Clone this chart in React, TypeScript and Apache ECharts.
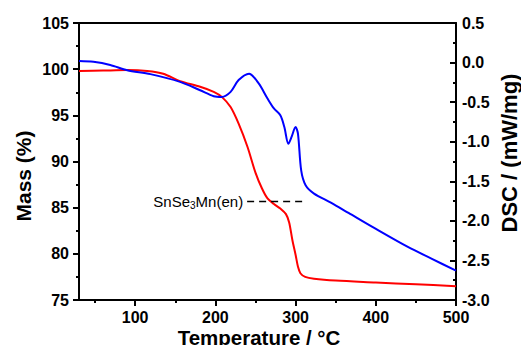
import React, { useEffect, useRef } from "react";
import * as echarts from "echarts";

const FONT = "Arial, 'Liberation Sans', Helvetica, sans-serif";

const massTemps = [30, 60, 90, 115, 135, 156, 181, 198, 208, 219, 229, 240, 250, 258, 265, 273, 281, 288, 292, 296, 300, 303, 306, 312, 323, 350, 400, 450, 500];
const massValues = [99.8, 99.85, 99.9, 99.8, 99.5, 98.7, 98.1, 97.55, 97.0, 95.9, 94.1, 91.6, 88.8, 87.1, 86.0, 85.4, 84.9, 84.3, 83.4, 81.5, 79.9, 78.6, 77.9, 77.5, 77.3, 77.1, 76.9, 76.7, 76.5];

const dscTemps = [30, 48, 69, 90, 119, 156, 181, 198, 208, 219, 229, 242, 254, 265, 273, 281, 286, 291, 295, 300, 303, 307, 312.5, 323, 344, 366, 398, 440, 470, 500];
const dscValues = [0.02, 0.01, -0.03, -0.096, -0.146, -0.244, -0.35, -0.425, -0.434, -0.37, -0.22, -0.14, -0.264, -0.454, -0.58, -0.666, -0.814, -1.025, -0.94, -0.814, -0.9, -1.363, -1.55, -1.655, -1.77, -1.9, -2.09, -2.33, -2.48, -2.63];

const xMajorTicks = [100, 200, 300, 400, 500];
const xMinorTicks = [50, 150, 250, 350, 450];

const annotationTemps = [239.6, 310.4];
const annotationMass = 85.7;

export default function App() {
  const ref = useRef<HTMLDivElement>(null);

  useEffect(() => {
    if (!ref.current) return;
    const chart = echarts.init(ref.current, null, { renderer: "svg" });
    const massData = massTemps.map((t, i) => [t, massValues[i]]);
    const dscData = dscTemps.map((t, i) => [t, dscValues[i]]);
    const labelStyle = { fontSize: 16, fontWeight: "bold" as const, color: "#000", fontFamily: FONT };
    const lineStyle = { color: "#000", width: 2 };

    chart.setOption({
      animation: false,
      backgroundColor: "#fff",
      grid: { left: 79, right: 65, top: 23, bottom: 45, containLabel: false, outerBoundsMode: "none" },
      xAxis: [
        {
          type: "value",
          min: 30,
          max: 500,
          position: "bottom",
          axisLine: { show: true, onZero: false, lineStyle },
          axisTick: { show: true, inside: false, length: 6, customValues: xMajorTicks, lineStyle: { color: "#000", width: 2 } },
          axisLabel: { ...labelStyle, margin: 9, customValues: xMajorTicks },
          splitLine: { show: false },
        },
        {
          type: "value",
          min: 30,
          max: 500,
          position: "bottom",
          axisLine: { show: false, onZero: false },
          axisTick: { show: true, inside: false, length: 3, customValues: xMinorTicks, lineStyle: { color: "#000", width: 2 } },
          axisLabel: { show: false },
          splitLine: { show: false },
        },
        {
          type: "value",
          min: 30,
          max: 500,
          position: "top",
          axisLine: { show: true, onZero: false, lineStyle },
          axisTick: { show: false },
          axisLabel: { show: false },
          splitLine: { show: false },
        },
      ],
      yAxis: [
        {
          type: "value",
          min: 75,
          max: 105,
          interval: 5,
          position: "left",
          axisLine: { show: true, onZero: false, lineStyle },
          axisTick: { show: true, inside: false, length: 6, lineStyle: { color: "#000", width: 2 } },
          minorTick: { show: true, splitNumber: 2, length: 3, lineStyle: { color: "#000", width: 2 } },
          axisLabel: { ...labelStyle, margin: 10 },
          splitLine: { show: false },
        },
        {
          type: "value",
          min: -3,
          max: 0.5,
          interval: 0.5,
          position: "right",
          axisLine: { show: true, onZero: false, lineStyle },
          axisTick: { show: true, inside: true, length: 6, lineStyle: { color: "#000", width: 2 } },
          minorTick: { show: true, splitNumber: 2, length: 3, lineStyle: { color: "#000", width: 2 } },
          axisLabel: { ...labelStyle, margin: 6, formatter: (v: number) => v.toFixed(1) },
          splitLine: { show: false },
        },
      ],
      series: [
        {
          type: "line",
          xAxisIndex: 0,
          yAxisIndex: 0,
          data: massData,
          showSymbol: false,
          smooth: 0.3,
          lineStyle: { color: "#ff0000", width: 2 },
          z: 3,
          markLine: {
            silent: true,
            symbol: ["none", "none"],
            lineStyle: { color: "#000", width: 1.3, type: [7, 5] },
            label: {
              show: true,
              position: "start",
              distance: 4,
              formatter: "{a|SnSe}{s|3}{a|Mn(en)}",
              rich: {
                a: { fontSize: 15, color: "#000", fontFamily: FONT },
                s: { fontSize: 10, color: "#000", fontFamily: FONT, padding: [9, 0, 0, 0] },
              },
            },
            data: [
              [
                { coord: [annotationTemps[0], annotationMass] },
                { coord: [annotationTemps[1], annotationMass] },
              ],
            ],
          },
        },
        {
          type: "line",
          xAxisIndex: 0,
          yAxisIndex: 1,
          data: dscData,
          showSymbol: false,
          smooth: 0.3,
          lineStyle: { color: "#0000ff", width: 2 },
          z: 4,
        },
      ],
      graphic: [
        {
          type: "text",
          x: 23,
          y: 176,
          rotation: Math.PI / 2,
          style: { text: "Mass (%)", fontSize: 21, fontWeight: "bold", fill: "#000", fontFamily: FONT, align: "center", verticalAlign: "middle" },
        },
        {
          type: "text",
          x: 509,
          y: 153,
          rotation: Math.PI / 2,
          style: { text: "DSC / (mW/mg)", fontSize: 22, fontWeight: "bold", fill: "#000", fontFamily: FONT, align: "center", verticalAlign: "middle" },
        },
        {
          type: "text",
          x: 259,
          y: 337.5,
          style: { text: "Temperature / °C", fontSize: 20.5, fontWeight: "bold", fill: "#000", fontFamily: FONT, align: "center", verticalAlign: "middle" },
        },
      ],
    });
    return () => chart.dispose();
  }, []);

  return <div ref={ref} style={{ position: "fixed", left: 0, top: 0, width: 521, height: 345 }} />;
}
